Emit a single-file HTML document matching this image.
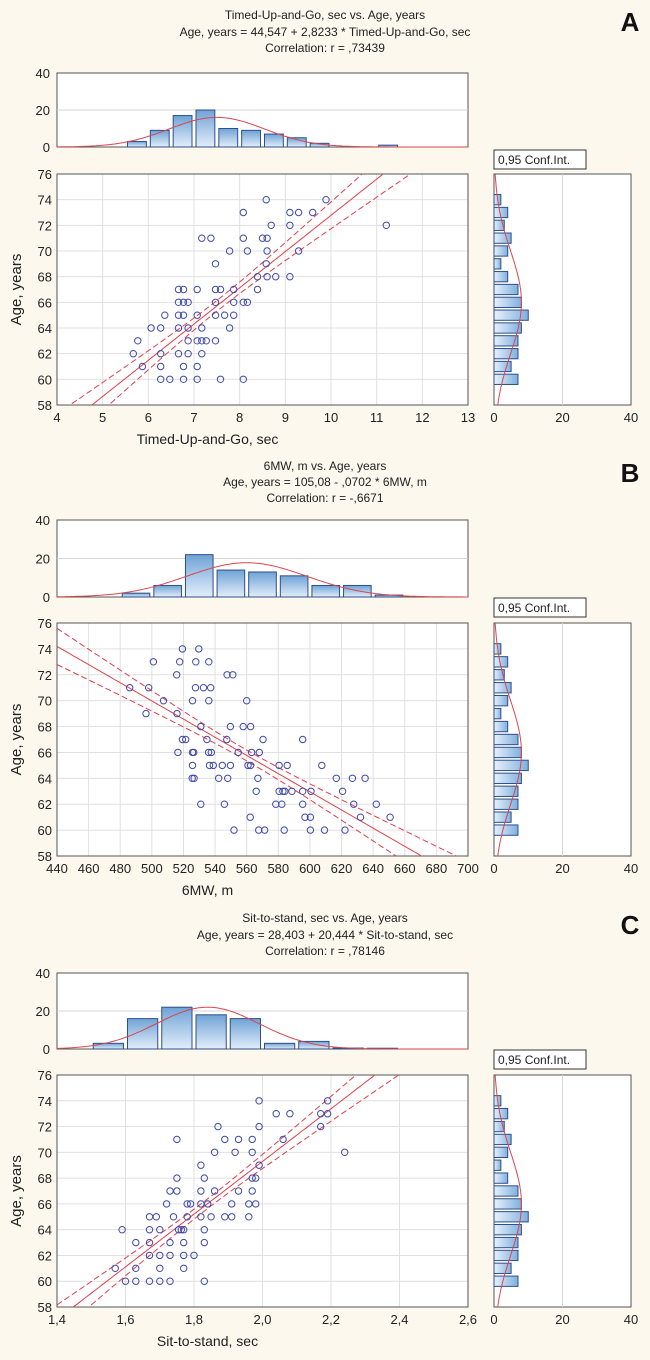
<!DOCTYPE html>
<html><head><meta charset="utf-8"><style>
html,body{margin:0;padding:0;background:#fcf8ee;}
svg{display:block;font-family:"Liberation Sans",Arial,sans-serif;}
</style></head><body>
<svg id="chart" width="650" height="1360" viewBox="0 0 650 1360" xmlns="http://www.w3.org/2000/svg">
<defs>
<linearGradient id="barGradV" x1="0" y1="0" x2="0" y2="1"><stop offset="0" stop-color="#6fa3d6"/><stop offset="1" stop-color="#e3eefa"/></linearGradient>
<linearGradient id="barGradH" x1="1" y1="0" x2="0" y2="0"><stop offset="0" stop-color="#7fb0de"/><stop offset="1" stop-color="#e8f1fb"/></linearGradient>
</defs>
</svg>
<script>
// ---------- Panel A data (Timed-Up-and-Go) ----------
const tugValues = [8.58,9.89, 8.08,9.1,9.29,9.6, 8.69,9.1,11.21, 7.17,7.37,8.08,8.5,8.6, 7.78,8.17,8.6,9.29, 7.47,8.58, 8.39,8.6,8.79,9.1, 6.66,6.77,7.07,7.47,7.58,7.87,8.39, 6.66,6.77,6.87,7.47,7.87,8.08,8.17, 6.36,6.66,6.77,7.07,7.47,7.67,7.87, 6.06,6.27,6.66,6.87,7.17,7.78, 5.77,6.87,7.07,7.17,7.27,7.47, 5.67,6.27,6.66,6.87,7.17, 5.87,6.27,6.77,7.07, 6.27,6.47,6.77,7.07,7.58,8.08];
const tugAges   = [74,74, 73,73,73,73, 72,72,72, 71,71,71,71,71, 70,70,70,70, 69,69, 68,68,68,68, 67,67,67,67,67,67,67, 66,66,66,66,66,66,66, 65,65,65,65,65,65,65, 64,64,64,64,64,64, 63,63,63,63,63,63, 62,62,62,62,62, 61,61,61,61, 60,60,60,60,60,60];
const tugBinStarts = [5.5,6.0,6.5,7.0,7.5,8.0,8.5,9.0,9.5,11.0];
const tugBinCounts = [3,9,17,20,10,9,7,5,2,1];
const tugFit = {intercept:44.547, slope:2.8233, mean:7.5, sd:1.05, peak:16};
const tugTicks = [4,5,6,7,8,9,10,11,12,13];

// ---------- Panel B data (6MW) ----------
const mwValues = [519.3,529.7, 501,517.6,527.8,536, 515.7,547.6,551.2, 486,498,527.6,532.7,537.2, 507.4,525.7,536,560, 496.3,515.9, 531,549.7,557.8,562.5, 519.3,521.4,534.8,547.4,570.3,595.4, 516.5,525.7,526.5,535.9,537.6,554.6,563.1,568, 525.7,536.5,538.9,544.6,549.7,560.8,562.5,580.5,585.6,607.5, 525.5,526.7,542.3,548,567.1,616.7,626.9,634.9, 566,580.5,582.9,584.1,588.6,595.4,600.7,620.7, 531,545.9,578.4,582.2,595.4,627.7,642, 562.2,596.9,600.3,632,650.7, 552,567.6,571.4,583.7,600.3,609.2,622.2];
const mwAges   = [74,74, 73,73,73,73, 72,72,72, 71,71,71,71,71, 70,70,70,70, 69,69, 68,68,68,68, 67,67,67,67,67,67, 66,66,66,66,66,66,66,66, 65,65,65,65,65,65,65,65,65,65, 64,64,64,64,64,64,64,64, 63,63,63,63,63,63,63,63, 62,62,62,62,62,62,62, 61,61,61,61,61, 60,60,60,60,60,60,60];
const mwBinStarts = [480,500,520,540,560,580,600,620,640];
const mwBinCounts = [2,6,22,14,13,11,6,6,1];
const mwFit = {intercept:105.08, slope:-0.0702, mean:560, sd:38, peak:17.8};
const mwTicks = [440,460,480,500,520,540,560,580,600,620,640,660,680,700];

// ---------- Panel C data (Sit-to-stand) ----------
const stsValues = [1.99,2.19, 2.04,2.08,2.17,2.19, 1.87,1.99,2.17, 1.75,1.89,1.93,1.97,2.06, 1.86,1.92,1.97,2.24, 1.82,1.99, 1.75,1.83,1.97,1.98, 1.73,1.75,1.82,1.86,1.93,1.97, 1.72,1.78,1.79,1.82,1.84,1.91,1.96,1.98, 1.67,1.69,1.74,1.78,1.82,1.85,1.89,1.91,1.96, 1.59,1.67,1.70,1.755,1.763,1.77,1.83, 1.63,1.67,1.73,1.77,1.83, 1.67,1.70,1.73,1.77,1.80, 1.57,1.63,1.70,1.77, 1.60,1.63,1.67,1.70,1.73,1.83];
const stsAges   = [74,74, 73,73,73,73, 72,72,72, 71,71,71,71,71, 70,70,70,70, 69,69, 68,68,68,68, 67,67,67,67,67,67, 66,66,66,66,66,66,66,66, 65,65,65,65,65,65,65,65,65, 64,64,64,64,64,64,64, 63,63,63,63,63, 62,62,62,62,62, 61,61,61,61, 60,60,60,60,60,60];
const stsBinStarts = [1.5,1.6,1.7,1.8,1.9,2.0,2.1,2.2,2.3];
const stsBinCounts = [3,16,22,18,16,3,4,0.5,0.4];
const stsFit = {intercept:28.403, slope:20.444, mean:1.84, sd:0.15, peak:22};
const stsTicks = [1.4,1.6,1.8,2.0,2.2,2.4,2.6];

// ---------- Age marginal histogram (shared) ----------
const ageBins   = [74,73,72,71,70,69,68,67,66,65,64,63,62,61,60];
const ageCounts = [2,4,3,5,4,2,4,7,8,10,8,7,7,5,7];
const ageFit = {mean:66, sd:4, peak:8};
const ageTicks = [58,60,62,64,66,68,70,72,74,76];
const histTicks = [0,20,40];

const NS = "http://www.w3.org/2000/svg";
const svg = document.getElementById('chart');
function mk(tag, attrs, parent){
  const e = document.createElementNS(NS, tag);
  for (const k in attrs) e.setAttribute(k, attrs[k]);
  (parent||svg).appendChild(e);
  return e;
}
function txt(s, attrs, parent){ const e = mk('text', attrs, parent); e.textContent = s; return e; }
function fmt(v, dec){ return dec ? v.toFixed(dec).replace('.', ',') : String(v); }

const panels = [
  {id:'a', letter:'A', title:['Timed-Up-and-Go, sec vs. Age, years','Age, years = 44,547 + 2,8233 * Timed-Up-and-Go, sec','Correlation: r = ,73439'],
   titleY:[15,32,48], hTop:73, hBot:147, sTop:174, sBot:405, confY:150, xTitle:'Timed-Up-and-Go, sec',
   xs:tugValues, ys:tugAges, bins:tugBinStarts, counts:tugBinCounts, binW:0.5, fit:tugFit, ticks:tugTicks, dec:0, xmin:4, xmax:13},
  {id:'b', letter:'B', title:['6MW, m vs. Age, years','Age, years = 105,08 - ,0702  * 6MW, m','Correlation: r = -,6671'],
   titleY:[466,482,498], hTop:520, hBot:597, sTop:623, sBot:856, confY:598, xTitle:'6MW, m',
   xs:mwValues, ys:mwAges, bins:mwBinStarts, counts:mwBinCounts, binW:20, fit:mwFit, ticks:mwTicks, dec:0, xmin:440, xmax:700},
  {id:'c', letter:'C', title:['Sit-to-stand, sec vs. Age, years','Age, years = 28,403 + 20,444 * Sit-to-stand, sec','Correlation: r = ,78146'],
   titleY:[918,935,951], hTop:973, hBot:1049, sTop:1075, sBot:1307, confY:1050, xTitle:'Sit-to-stand, sec',
   xs:stsValues, ys:stsAges, bins:stsBinStarts, counts:stsBinCounts, binW:0.1, fit:stsFit, ticks:stsTicks, dec:1, xmin:1.4, xmax:2.6}
];

const L = 57, R = 468, RL = 494, RR = 631;

panels.forEach(p => {
  const g = mk('g', {});
  
  
  const sx = v => L + (v - p.xmin) / (p.xmax - p.xmin) * (R - L);
  const sy = v => p.sTop + (76 - v) / 18 * (p.sBot - p.sTop);
  const hy = v => p.hBot - v / 40 * (p.hBot - p.hTop);
  const rx = v => RL + v / 40 * (RR - RL);

  p.title.forEach((t, i) => {
    const e = txt(t, {x:325, y:p.titleY[i]+4, 'text-anchor':'middle', 'font-size':12, fill:'#222'}, g);
    
    
  });
  const lt = txt(p.letter, {x:630, y:p.titleY[0]+16, 'text-anchor':'middle', 'font-size':26, 'font-weight':'bold', fill:'#111'}, g);
  
  

  // ----- top histogram -----
  const th = mk('g', {}, g);
  
  
  mk('rect', {x:L, y:p.hTop, width:R-L, height:p.hBot-p.hTop, fill:'#fff', stroke:'#555', 'stroke-width':1}, th);
  mk('line', {x1:L, x2:R, y1:hy(20), y2:hy(20), stroke:'#d6d6d6', 'stroke-width':1}, th);
  histTicks.forEach(t => {
    const e = txt(String(t), {x:L-7, y:hy(t)+5, 'text-anchor':'end', 'font-size':13, fill:'#222'}, th);
    
    
  });
  p.bins.forEach((b, i) => {
    const x0 = sx(b), x1 = sx(b + p.binW);
    const r = mk('rect', {x:x0+2, y:hy(p.counts[i]), width:Math.max(1, x1-x0-4), height:hy(0)-hy(p.counts[i]), fill:'url(#barGradV)', stroke:'#2d4f8a', 'stroke-width':1}, th);
    
    
  });
  let d = '';
  for (let k = 0; k <= 200; k++) {
    const v = p.xmin + (p.xmax - p.xmin) * k / 200;
    const c = p.fit.peak * Math.exp(-0.5 * Math.pow((v - p.fit.mean) / p.fit.sd, 2));
    d += (k ? 'L' : 'M') + sx(v).toFixed(1) + ',' + hy(c).toFixed(1);
  }
  const hc = mk('path', {d:d, fill:'none', stroke:'#d9464f', 'stroke-width':1}, th);
  
  

  // ----- scatter -----
  const sc = mk('g', {}, g);
  
  
  mk('rect', {x:L, y:p.sTop, width:R-L, height:p.sBot-p.sTop, fill:'#fff'}, sc);
  const cp = mk('clipPath', {id:'clip-' + p.id}, sc);
  mk('rect', {x:L, y:p.sTop, width:R-L, height:p.sBot-p.sTop}, cp);
  p.ticks.forEach(t => {
    mk('line', {x1:sx(t), x2:sx(t), y1:p.sTop, y2:p.sBot, stroke:'#e0e0e0', 'stroke-width':1}, sc);
    const e = txt(fmt(t, p.dec), {x:sx(t), y:p.sBot+17, 'text-anchor':'middle', 'font-size':13, fill:'#222'}, sc);
    
    
  });
  ageTicks.forEach(t => {
    mk('line', {x1:L, x2:R, y1:sy(t), y2:sy(t), stroke:'#e0e0e0', 'stroke-width':1}, sc);
    const e = txt(String(t), {x:L-5, y:sy(t)+5, 'text-anchor':'end', 'font-size':13, fill:'#222'}, sc);
    
    
  });
  mk('rect', {x:L, y:p.sTop, width:R-L, height:p.sBot-p.sTop, fill:'none', stroke:'#555', 'stroke-width':1}, sc);
  const xt = txt(p.xTitle, {x:(L+R)/2 - 55, y:p.sBot+39, 'text-anchor':'middle', 'font-size':14, fill:'#222'}, sc);
  
  
  const cy = (p.sTop + p.sBot) / 2;
  const yt = txt('Age, years', {x:21, y:cy, 'text-anchor':'middle', 'font-size':15, fill:'#222', transform:'rotate(-90 21 ' + cy + ')'}, sc);
  
  

  // regression + CI
  const n = p.xs.length;
  const xm = p.xs.reduce((a, b) => a + b, 0) / n;
  let sxx = 0, sse = 0;
  p.xs.forEach((x, i) => { sxx += (x - xm) * (x - xm); const r = p.ys[i] - (p.fit.intercept + p.fit.slope * x); sse += r * r; });
  const s = Math.sqrt(sse / (n - 2)), tval = 1.99 * 0.65;
  let dl = '', du = '', dlo = '';
  for (let k = 0; k <= 200; k++) {
    const x = p.xmin + (p.xmax - p.xmin) * k / 200;
    const yhat = p.fit.intercept + p.fit.slope * x;
    const hw = tval * s * Math.sqrt(1 / n + (x - xm) * (x - xm) / sxx);
    const pre = k ? 'L' : 'M';
    dl += pre + sx(x).toFixed(1) + ',' + sy(yhat).toFixed(1);
    du += pre + sx(x).toFixed(1) + ',' + sy(yhat + hw).toFixed(1);
    dlo += pre + sx(x).toFixed(1) + ',' + sy(yhat - hw).toFixed(1);
  }
  const lg = mk('g', {'clip-path':'url(#clip-' + p.id + ')'}, sc);
  const rl = mk('path', {d:dl, fill:'none', stroke:'#e0404a', 'stroke-width':1}, lg);
  
  
  const c1 = mk('path', {d:du, fill:'none', stroke:'#e0404a', 'stroke-width':1, 'stroke-dasharray':'6,3'}, lg);
  
  
  const c2 = mk('path', {d:dlo, fill:'none', stroke:'#e0404a', 'stroke-width':1, 'stroke-dasharray':'6,3'}, lg);
  
  

  p.xs.forEach((x, i) => {
    const c = mk('circle', {cx:sx(x).toFixed(1), cy:sy(p.ys[i]).toFixed(1), r:3.2, fill:'none', stroke:'#3f4aa8', 'stroke-width':1}, sc);
    
    
  });

  // ----- right histogram -----
  const rh = mk('g', {}, g);
  
  
  const cb = mk('rect', {x:RL, y:p.confY, width:92, height:19, fill:'#fff', stroke:'#333', 'stroke-width':1}, rh);
  
  
  const ct = txt('0,95 Conf.Int.', {x:RL+4, y:p.confY+14, 'font-size':12, fill:'#222'}, rh);
  
  
  mk('rect', {x:RL, y:p.sTop, width:RR-RL, height:p.sBot-p.sTop, fill:'#fff', stroke:'#555', 'stroke-width':1}, rh);
  mk('line', {x1:rx(20), x2:rx(20), y1:p.sTop, y2:p.sBot, stroke:'#d6d6d6', 'stroke-width':1}, rh);
  histTicks.forEach(t => {
    const e = txt(String(t), {x:rx(t), y:p.sBot+17, 'text-anchor':'middle', 'font-size':13, fill:'#222'}, rh);
    
    
  });
  ageBins.forEach((a, i) => {
    const y0 = sy(a + 0.4), y1 = sy(a - 0.4);
    const r = mk('rect', {x:RL, y:y0, width:rx(ageCounts[i]) - RL, height:y1-y0, fill:'url(#barGradH)', stroke:'#2d4f8a', 'stroke-width':1}, rh);
    
    
  });
  let dr = '';
  for (let k = 0; k <= 100; k++) {
    const a = 58 + 18 * k / 100;
    const c = ageFit.peak * Math.exp(-0.5 * Math.pow((a - ageFit.mean) / ageFit.sd, 2));
    dr += (k ? 'L' : 'M') + rx(c).toFixed(1) + ',' + sy(a).toFixed(1);
  }
  const rc = mk('path', {d:dr, fill:'none', stroke:'#d9464f', 'stroke-width':1}, rh);
  
  
});
</script>
</body></html>
